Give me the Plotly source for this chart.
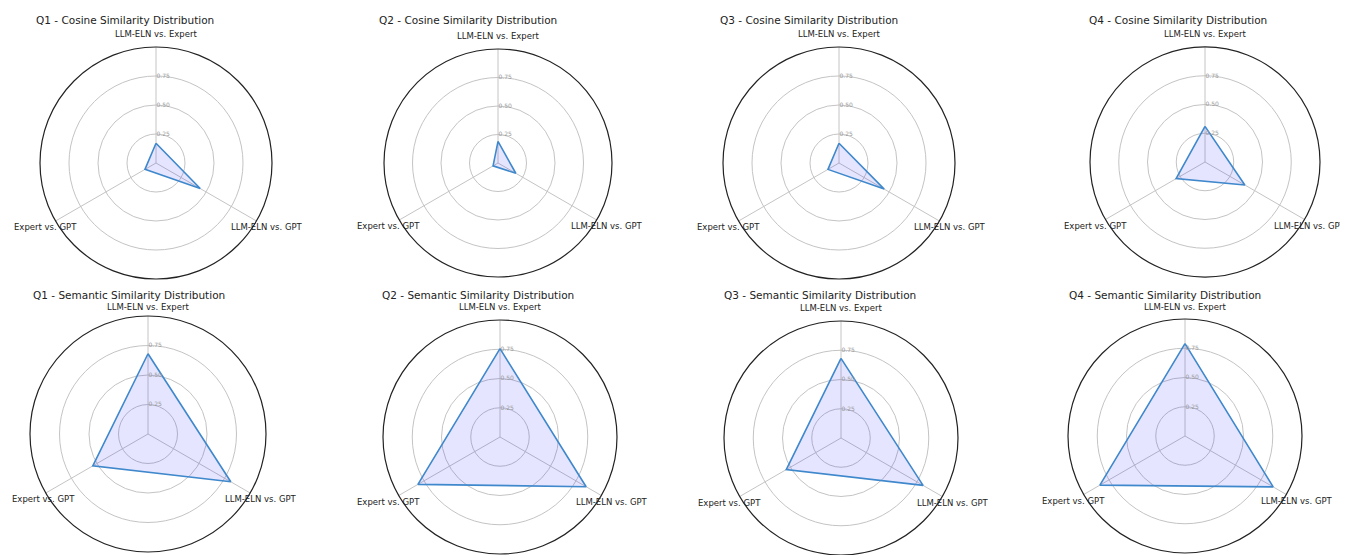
import math
import plotly.graph_objects as go

# The page body has an 8px default margin; work in screen pixels and offset.
OFF = 8
W, H = 1348 - OFF, 555 - OFF

categories = ["LLM-ELN vs. Expert", "LLM-ELN vs. GPT", "Expert vs. GPT"]
category_angles = [90, -30, 210]

cosine_q1 = [0.17, 0.44, 0.11]
cosine_q2 = [0.19, 0.18, 0.05]
cosine_q3 = [0.17, 0.45, 0.11]
cosine_q4 = [0.31, 0.40, 0.29]

semantic_q1 = [0.68, 0.81, 0.54]
semantic_q2 = [0.755, 0.85, 0.81]
semantic_q3 = [0.68, 0.81, 0.54]
semantic_q4 = [0.79, 0.87, 0.84]

radial_ticks = [0.25, 0.50, 0.75]
radial_ticktext = ["0.25", "0.50", "0.75"]

panels = [
    ("Q1 - Cosine Similarity Distribution", cosine_q1),
    ("Q2 - Cosine Similarity Distribution", cosine_q2),
    ("Q3 - Cosine Similarity Distribution", cosine_q3),
    ("Q4 - Cosine Similarity Distribution", cosine_q4),
    ("Q1 - Semantic Similarity Distribution", semantic_q1),
    ("Q2 - Semantic Similarity Distribution", semantic_q2),
    ("Q3 - Semantic Similarity Distribution", semantic_q3),
    ("Q4 - Semantic Similarity Distribution", semantic_q4),
]

# layout geometry (screen pixels): polar centre x, centre y, radius, title centre x, title y
geom = [
    (156, 163, 116, 125, 20),
    (498, 163, 114, 468, 20),
    (839, 163, 116, 809, 20),
    (1205, 162, 115, 1178, 20),
    (148, 434, 118, 129, 295),
    (500, 437, 117, 478, 295),
    (841, 438, 117, 820, 295),
    (1185, 436, 117, 1165, 295),
]

FONT = "DejaVu Sans, Liberation Sans, sans-serif"
LINE = "#3f88cc"
FILL = "rgba(0,0,255,0.10)"
GRID = "#c4c4c4"


def px(x):
    return (x - OFF) / W


def py(y):
    return 1 - (y - OFF) / H


fig = go.Figure()
layout = dict(
    width=W, height=H, margin=dict(l=0, r=0, t=0, b=0),
    paper_bgcolor="white", plot_bgcolor="white", showlegend=False,
    font=dict(family=FONT, color="#222222"),
)
annotations = []

for i, ((title, vals), (cx, cy, R, tx, ty)) in enumerate(zip(panels, geom)):
    pid = "polar" if i == 0 else f"polar{i+1}"
    fig.add_trace(go.Scatterpolar(
        r=vals + [vals[0]], theta=categories + [categories[0]],
        mode="lines", fill="toself", fillcolor=FILL,
        line=dict(color=LINE, width=1.6), subplot=pid, hoverinfo="skip",
    ))
    y0 = max(0.0, py(cy + R))
    y1 = min(1.0, py(cy - R))
    layout[pid] = dict(
        domain=dict(x=[px(cx - R), px(cx + R)], y=[y0, y1]),
        bgcolor="white",
        angularaxis=dict(
            type="category", categoryarray=categories, rotation=90,
            direction="clockwise", showticklabels=False, ticks="",
            showgrid=True, gridcolor=GRID, gridwidth=1,
            showline=True, linecolor="#222222", linewidth=1.2,
        ),
        radialaxis=dict(
            range=[0, 1], angle=90, tickangle=90, side="clockwise",
            tickvals=radial_ticks, ticktext=radial_ticktext,
            tickfont=dict(family=FONT, size=6, color="#999999"),
            showline=False, ticks="", showgrid=True, gridcolor=GRID, gridwidth=1,
        ),
    )
    annotations.append(dict(
        text=title, x=px(tx), y=py(ty), xref="paper", yref="paper",
        xanchor="center", yanchor="middle", showarrow=False,
        font=dict(family=FONT, size=10.5, color="#222222"),
    ))
    # category labels just outside the outer circle
    for cat, ang in zip(categories, category_angles):
        dist = R + (13 if ang == 90 else 12)
        lx = cx + dist * math.cos(math.radians(ang))
        ly = cy - dist * math.sin(math.radians(ang))
        if ang == 90 and i >= 4:
            ly = max(ly, ty + 12)
        lx = min(max(lx, OFF + 35), 1348 - 38)
        annotations.append(dict(
            text=cat, x=px(lx), y=py(ly), xref="paper", yref="paper",
            xanchor="center", yanchor="middle", showarrow=False,
            font=dict(family=FONT, size=8.5, color="#222222"),
        ))

layout["annotations"] = annotations
fig.update_layout(**layout)
fig.write_html("out.html")
